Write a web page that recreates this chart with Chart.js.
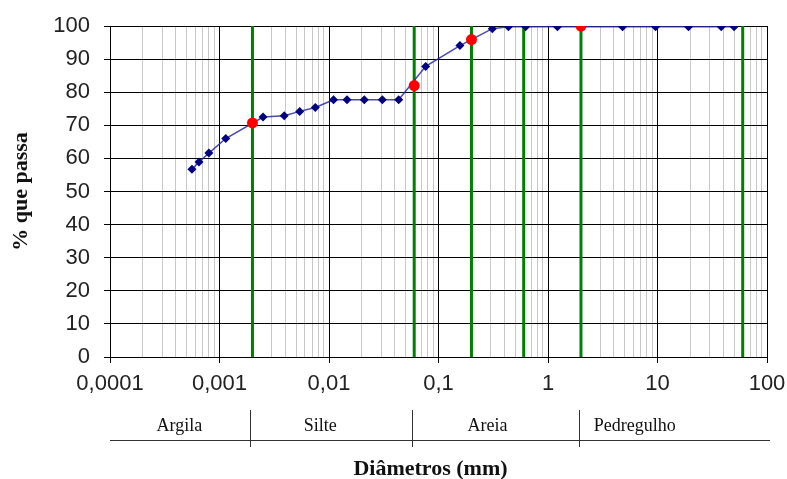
<!DOCTYPE html>
<html>
<head>
<meta charset="utf-8">
<script src="https://cdn.jsdelivr.net/npm/chart.js@4.4.0/dist/chart.umd.min.js"></script>
<style>
  html, body { margin: 0; padding: 0; background: #fff; }
  #wrap { width: 787px; height: 479px; }
</style>
</head>
<body>
<div id="wrap"><canvas id="curve"></canvas></div>
<script>
// granulometric curve (diameter in mm, % passing)
const diameters = [0.00056, 0.00065, 0.0008, 0.00114, 0.0025, 0.0039, 0.0054, 0.0075, 0.011, 0.0146, 0.021, 0.0307, 0.0433, 0.0764, 0.157, 0.31, 0.435, 0.625, 1.22, 4.8, 9.6, 19.2, 38.2, 50];
const percentPassing = [56.7, 58.9, 61.6, 66, 72.5, 72.9, 74.2, 75.4, 77.7, 77.7, 77.7, 77.7, 77.7, 87.8, 94.1, 99.2, 99.8, 99.8, 99.8, 99.8, 99.8, 99.8, 99.8, 99.8];

// red points on the fraction limits
const limitDiameters = [0.002, 0.06, 0.2, 2];
const limitPercent = [70.7, 82, 95.9, 100];

// green vertical lines
const fractionLimits = [0.002, 0.06, 0.2, 0.6, 2, 60];

// classification band under the axis
const bandBounds = [0.002, 0.06, 2];
const bandNames = ['Argila', 'Silte', 'Areia', 'Pedregulho'];
const bandLabelAt = [0.00043, 0.0083, 0.28, 6.2];

// axis ticks
const decadeTicks = [0.0001, 0.001, 0.01, 0.1, 1, 10, 100];
const decadeLabels = ['0,0001', '0,001', '0,01', '0,1', '1', '10', '100'];

const gridValues = [];
decadeTicks.forEach((d) => {
  if (d === 100) { gridValues.push(d); return; }
  for (let m = 1; m <= 9; m++) gridValues.push(m === 1 ? d : d * m);
});

const isDecade = (v) => decadeTicks.includes(v);

const bandPlugin = {
  id: 'band',
  afterDraw(chart) {
    const { ctx, chartArea } = chart;
    const xs = chart.scales.x;
    ctx.save();
    ctx.strokeStyle = '#333';
    ctx.lineWidth = 1;
    ctx.beginPath();
    ctx.moveTo(chartArea.left, 440.5);
    ctx.lineTo(chartArea.right + 3, 440.5);
    bandBounds.forEach((b) => {
      const x = Math.round(xs.getPixelForValue(b)) - 1.5;
      ctx.moveTo(x, 410);
      ctx.lineTo(x, 447);
    });
    ctx.stroke();

    ctx.fillStyle = '#111';
    ctx.font = '18px "Liberation Serif"';
    ctx.textAlign = 'center';
    ctx.textBaseline = 'middle';
    bandNames.forEach((name, i) => {
      ctx.fillText(name, xs.getPixelForValue(bandLabelAt[i]), 426);
    });

    ctx.font = 'bold 22px "Liberation Serif"';
    ctx.fillText('Diâmetros (mm)', (chartArea.left + chartArea.right) / 2 - 8, 469);
    ctx.restore();
  },
};

const limitLineSets = fractionLimits.map((v) => ({
  data: [{ x: v, y: 0 }, { x: v, y: 100 }],
  showLine: true,
  borderColor: '#008000',
  borderWidth: 3,
  pointRadius: 0,
}));

new Chart(document.getElementById('curve'), {
  type: 'scatter',
  data: {
    datasets: [
      {
        data: limitDiameters.map((x, i) => ({ x, y: limitPercent[i] })),
        pointStyle: 'circle',
        pointRadius: 5.5,
        backgroundColor: '#ff0000',
        borderWidth: 0,
      },
      {
        data: diameters.map((x, i) => ({ x, y: percentPassing[i] })),
        showLine: true,
        borderColor: 'rgba(40, 40, 160, 0.85)',
        borderWidth: 1.5,
        pointStyle: 'rectRot',
        pointRadius: 4.5,
        backgroundColor: '#000080',
        pointBorderColor: '#000080',
        pointBorderWidth: 0,
      },
      ...limitLineSets,
    ],
  },
  options: {
    responsive: true,
    maintainAspectRatio: false,
    animation: false,
    layout: { padding: 0 },
    plugins: { legend: { display: false }, tooltip: { enabled: false } },
    scales: {
      x: {
        type: 'logarithmic',
        min: 0.0001,
        max: 100,
        afterBuildTicks: (scale) => { scale.ticks = gridValues.map((value) => ({ value })); },
        afterFit: (scale) => {
          scale.height = 122;
          scale.paddingRight = 20;
        },
        ticks: {
          autoSkip: false,
          maxRotation: 0,
          padding: 8,
          color: '#222',
          font: { family: '"Liberation Sans"', size: 22 },
          callback: (value) => {
            const i = decadeTicks.indexOf(value);
            return i >= 0 ? decadeLabels[i] : '';
          },
        },
        grid: {
          color: (c) => (c.tick && isDecade(c.tick.value) ? '#000' : '#c8c8c8'),
          tickColor: (c) => (c.tick && isDecade(c.tick.value) ? '#000' : 'rgba(0,0,0,0)'),
          tickLength: 6,
          lineWidth: 1,
        },
        border: { color: '#000' },
      },
      y: {
        min: 0,
        max: 100,
        afterFit: (scale) => {
          scale.width = 110;
          scale.paddingTop = 26;
        },
        ticks: {
          stepSize: 10,
          padding: 14,
          color: '#222',
          font: { family: '"Liberation Sans"', size: 22 },
        },
        grid: { color: '#000', tickColor: '#000', tickLength: 6 },
        border: { color: '#000' },
        title: {
          display: true,
          text: '% que passa',
          color: '#111',
          font: { family: '"Liberation Serif"', size: 22, weight: 'bold' },
          padding: { top: 8, bottom: 0 },
        },
      },
    },
  },
  plugins: [bandPlugin],
});
</script>
</body>
</html>
